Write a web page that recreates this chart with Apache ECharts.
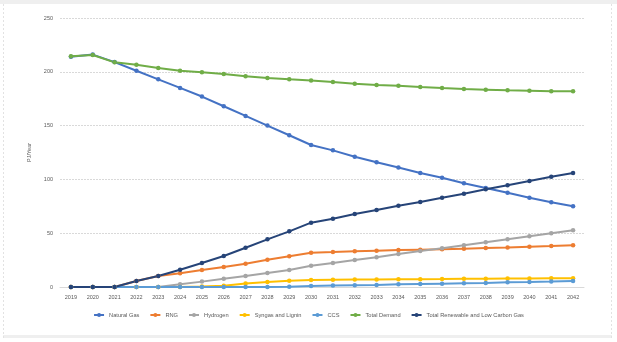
<!DOCTYPE html>
<html>
<head>
<meta charset="utf-8">
<script src="https://cdn.jsdelivr.net/npm/echarts@6/dist/echarts.min.js"></script>
<style>
html,body{margin:0;padding:0;background:#fff;}
#c{width:617px;height:342px;}
</style>
</head>
<body>
<div id="c"></div>
<script>
const years = ['2019','2020','2021','2022','2023','2024','2025','2026','2027','2028','2029','2030','2031','2032','2033','2034','2035','2036','2037','2038','2039','2040','2041','2042'];
const naturalGas = [214,216,209,201,193,185,177,168,159,150,141,132,127,121,116,111,106,101.5,96.5,92,87.5,83,78.7,75];
const rng = [0,0,0,5.5,10.2,12.7,15.8,18.6,21.7,25.4,28.5,31.9,32.5,33.2,33.8,34.4,34.7,35,35.6,36.2,36.8,37.5,38,38.7];
const hydrogen = [0,0,0,0,0,2.5,5,7.7,10.2,13,15.8,19.8,22.3,25.1,27.6,30.7,33.5,36,38.7,41.5,44.3,47.1,49.9,52.7];
const syngas = [0,0,0,0,0,0,0.5,1.2,3.2,4.6,5.9,6.5,6.8,7,7,7.3,7.3,7.4,7.6,7.6,7.8,7.9,8.1,8.2];
const ccs = [0,0,0,0,0,0,0,0,0,0,0.3,1,1.3,1.6,1.9,2.5,2.8,3.1,3.4,3.7,4.3,4.6,5,5.6];
const totalDemand = [214.4,215.6,208.8,206.6,203.6,201,199.5,197.9,195.8,194.2,193,192,190.5,189,187.7,187,185.9,184.9,184,183.4,182.8,182.5,181.9,181.9];
const totalRenewable = [0,0,0,5.6,10.2,16.1,22.3,28.8,36.5,44.3,51.7,59.8,63.5,67.8,71.6,75.6,79,83,86.7,90.8,94.5,98.5,102.5,106];
const yTicks = [0,50,100,150,200,250];

const seriesDefs = [
  ['Natural Gas', naturalGas, '#4472C4'],
  ['RNG', rng, '#ED7D31'],
  ['Hydrogen', hydrogen, '#A5A5A5'],
  ['Syngas and Lignin', syngas, '#FFC000'],
  ['CCS', ccs, '#5B9BD5'],
  ['Total Demand', totalDemand, '#70AD47'],
  ['Total Renewable and Low Carbon Gas', totalRenewable, '#264478']
];

const FONT = '"Liberation Sans", Arial, sans-serif';
const chart = echarts.init(document.getElementById('c'), null, {renderer:'canvas'});
chart.setOption({
  animation:false,
  backgroundColor:'#fff',
  textStyle:{fontFamily:FONT},
  graphic:[
    {type:'rect', shape:{x:0,y:0,width:617,height:4}, style:{fill:'#efefef'}, silent:true},
    {type:'rect', shape:{x:3,y:335,width:609,height:3}, style:{fill:'#efefef'}, silent:true},
    {type:'line', shape:{x1:3.5,y1:4,x2:3.5,y2:338}, style:{stroke:'#e2e2e2',lineWidth:1,lineDash:[2,2]}, silent:true},
    {type:'line', shape:{x1:611.5,y1:4,x2:611.5,y2:338}, style:{stroke:'#e2e2e2',lineWidth:1,lineDash:[2,2]}, silent:true}
  ],
  grid:{left:60,right:33,top:18,bottom:55,containLabel:false},
  legend:{
    bottom:19,
    left:'center',
    itemWidth:10,
    itemHeight:5,
    itemGap:10,
    textStyle:{fontSize:5.7,color:'#595959',fontFamily:FONT},
    data:seriesDefs.map(s=>s[0])
  },
  xAxis:{
    type:'category',
    data:years,
    boundaryGap:true,
    axisLine:{show:true,lineStyle:{color:'#d9d9d9'}},
    axisTick:{show:false},
    axisLabel:{fontSize:5.5,color:'#595959',margin:7,fontFamily:FONT}
  },
  yAxis:{
    type:'value',
    min:yTicks[0],
    max:yTicks[yTicks.length-1],
    interval:50,
    name:'PJ/Year',
    nameLocation:'middle',
    nameGap:16,
    nameTextStyle:{fontSize:5.5,color:'#595959',fontFamily:FONT},
    axisLine:{show:false},
    axisTick:{show:false},
    axisLabel:{fontSize:5.5,color:'#595959',margin:7,fontFamily:FONT},
    splitLine:{lineStyle:{color:'#d9d9d9',width:1,type:[2,1]}}
  },
  series:seriesDefs.map(([name,data,color])=>({
    name:name,
    type:'line',
    data:data,
    symbol:'circle',
    symbolSize:4.5,
    lineStyle:{width:2,color:color},
    itemStyle:{color:color},
    emphasis:{disabled:true}
  }))
});
</script>
</body>
</html>
